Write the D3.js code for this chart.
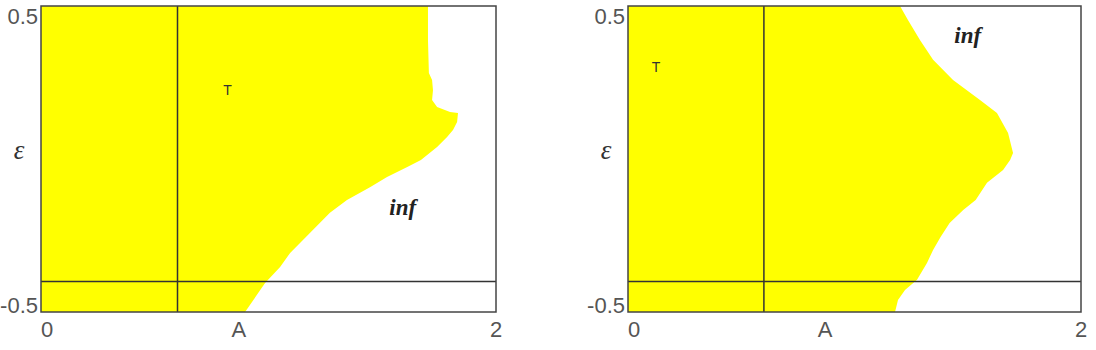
<!DOCTYPE html>
<html>
<head>
<meta charset="utf-8">
<script src="https://cdn.jsdelivr.net/npm/d3@7"></script>
<style>
  html, body { margin: 0; padding: 0; background: #fff; }
  svg { display: block; }
  .tick-label { font-family: "Liberation Sans", Arial, sans-serif; font-size: 22px; fill: #555; }
  .eps { font-family: "Liberation Serif", "Times New Roman", "DejaVu Serif", serif; font-style: italic; font-size: 27px; fill: #333; }
  .inf { font-family: "Liberation Serif", "Times New Roman", "DejaVu Serif", serif; font-style: italic; font-weight: bold; font-size: 23px; fill: #222; }
  .tag { font-family: "Liberation Sans", Arial, sans-serif; font-size: 14px; fill: #333; }
</style>
</head>
<body>
<svg id="chart" width="1096" height="350"></svg>
<script>
// axis settings (shared by both panels)
const aDomain = [0, 2];
const epsDomain = [-0.5, 0.5];
const xTickValues = [0, 2];
const xTickLabels = ['0', '2'];
const yTickValues = [0.5, -0.5];
const yTickLabels = ['0.5', '-0.5'];
const xTitle = 'A';
const xTitlePos = 0.87;
const yTitle = 'ε';
const yTitlePos = 0.0;
const markerA = 0.6;     // vertical reference line
const markerEps = -0.4;  // horizontal reference line

// left panel: boundary of the bounded (yellow) region, A as a function of ε
const leftEps = [0.5, 0.389, 0.281, 0.258, 0.225, 0.193, 0.170, 0.154, 0.150, 0.121, 0.095, 0.072, 0.039, -0.003,
  -0.026, -0.059, -0.092, -0.134, -0.176, -0.242, -0.307, -0.353, -0.405, -0.5];
const leftA = [1.701, 1.701, 1.705, 1.719, 1.723, 1.719, 1.741, 1.798, 1.833, 1.829, 1.811, 1.785, 1.741, 1.670,
  1.610, 1.521, 1.446, 1.345, 1.270, 1.182, 1.095, 1.051, 0.985, 0.897];

// right panel
const rightEps = [0.5, 0.454, 0.389, 0.324, 0.258, 0.193, 0.150, 0.085, 0.020, -0.003, -0.036, -0.078, -0.134,
  -0.167, -0.209, -0.255, -0.297, -0.340, -0.395, -0.428, -0.461, -0.5];
const rightA = [1.201, 1.236, 1.289, 1.347, 1.435, 1.554, 1.629, 1.678, 1.700, 1.687, 1.656, 1.585, 1.535,
  1.480, 1.420, 1.380, 1.347, 1.320, 1.276, 1.223, 1.192, 1.179];

const panels = [
  { left: 41, right: 496, eps: leftEps, a: leftA, tPos: [0.82, 0.209], infPos: [1.59, -0.183] },
  { left: 628, right: 1081, eps: rightEps, a: rightA, tPos: [0.124, 0.284], infPos: [1.50, 0.379] }
];

const plotTop = 6, plotBottom = 312;
const svg = d3.select('#chart');

panels.forEach(p => {
  const x = d3.scaleLinear().domain(aDomain).range([p.left, p.right]);
  const y = d3.scaleLinear().domain(epsDomain).range([plotBottom, plotTop]);
  const g = svg.append('g');

  const pts = p.eps.map((e, i) => ({ eps: e, a: p.a[i] }));
  const area = d3.area()
    .y(d => y(d.eps))
    .x0(x(0))
    .x1(d => x(d.a));

  g.append('path')
    .datum(pts)
    .attr('d', area)
    .attr('fill', '#ffff00');

  // reference lines
  g.append('line')
    .attr('x1', x(markerA)).attr('x2', x(markerA))
    .attr('y1', y(epsDomain[0])).attr('y2', y(epsDomain[1]))
    .attr('stroke', '#333').attr('stroke-width', 1.5);
  g.append('line')
    .attr('x1', x(aDomain[0])).attr('x2', x(aDomain[1]))
    .attr('y1', y(markerEps)).attr('y2', y(markerEps))
    .attr('stroke', '#333').attr('stroke-width', 1.5);

  // frame
  g.append('rect')
    .attr('x', x(aDomain[0])).attr('y', y(epsDomain[1]))
    .attr('width', x(aDomain[1]) - x(aDomain[0]))
    .attr('height', y(epsDomain[0]) - y(epsDomain[1]))
    .attr('fill', 'none').attr('stroke', '#444').attr('stroke-width', 1.5);

  // y tick labels
  g.selectAll('.ylab')
    .data(yTickValues)
    .enter().append('text')
    .attr('class', 'tick-label')
    .attr('x', x(aDomain[0]) - 3)
    .attr('y', d => y(d) + (d > 0 ? 18 : 1))
    .attr('text-anchor', 'end')
    .text((d, i) => yTickLabels[i]);

  // x tick labels
  g.selectAll('.xlab')
    .data(xTickValues)
    .enter().append('text')
    .attr('class', 'tick-label')
    .attr('x', d => x(d))
    .attr('y', plotBottom + 25)
    .attr('text-anchor', (d, i) => i === 0 ? 'start' : 'middle')
    .text((d, i) => xTickLabels[i]);

  g.append('text')
    .attr('class', 'tick-label')
    .attr('x', x(xTitlePos))
    .attr('y', plotBottom + 25)
    .attr('text-anchor', 'middle')
    .text(xTitle);

  g.append('text')
    .attr('class', 'eps')
    .attr('x', x(aDomain[0]) - 22)
    .attr('y', y(yTitlePos))
    .attr('text-anchor', 'middle')
    .text(yTitle);

  g.append('text')
    .attr('class', 'tag')
    .attr('x', x(p.tPos[0]))
    .attr('y', y(p.tPos[1]))
    .attr('text-anchor', 'middle')
    .text('T');

  g.append('text')
    .attr('class', 'inf')
    .attr('x', x(p.infPos[0]))
    .attr('y', y(p.infPos[1]))
    .attr('text-anchor', 'middle')
    .text('inf');
});
</script>
</body>
</html>
